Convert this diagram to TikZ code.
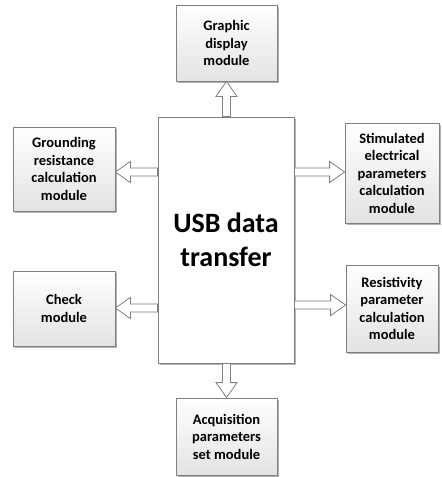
\documentclass[tikz,border=0pt]{standalone}
\usepackage{fontspec}
\setmainfont{Carlito}
\usetikzlibrary{shadows,calc}
\tikzset{
  x=1pt, y=-1pt,
  boxline/.style={draw=black!50, line width=0.8pt},
  module/.style={boxline, top color=white, bottom color=black!11,
    align=center, inner sep=0pt,
    font=\bfseries\fontsize{14.5}{17.5}\selectfont,
    drop shadow={shadow xshift=2pt, shadow yshift=-2pt, fill=black!30, opacity=1}},
  hub/.style={boxline, fill=white, align=center, inner sep=0pt,
    font=\bfseries\fontsize{28}{33.5}\selectfont,
    drop shadow={shadow xshift=2pt, shadow yshift=-2pt, fill=black!30, opacity=1}},
  harrow/.style={boxline, fill=white, line join=miter}
}
% hollow block arrow from #1 to #2
\newcommand\hollowarrow[2]{%
  \path[harrow] let \p1=(#1), \p2=(#2),
      \n1={atan2(\y2-\y1,\x2-\x1)}, \n2={veclen(\x2-\x1,\y2-\y1)} in
    [shift={(\p1)}, rotate=\n1]
    (0pt,-4pt) -- ({\n2*1pt-15pt},-4pt) -- ({\n2*1pt-15pt},-10.5pt)
    -- ({\n2*1pt},0pt) -- ({\n2*1pt-15pt},10.5pt) -- ({\n2*1pt-15pt},4pt)
    -- (0pt,4pt) -- cycle;}
\begin{document}
\begin{tikzpicture}
\useasboundingbox (0,0) rectangle (442,477);

\node[hub, minimum width=136pt, minimum height=246pt] (usb) at (226,240) {USB data\\transfer};

\node[module, minimum width=101pt, minimum height=76pt] (gd) at (226.5,43) {Graphic\\display\\module};
\node[module, minimum width=102pt, minimum height=84pt] (gr) at (64,169) {Grounding\\resistance\\calculation\\module};
\node[module, minimum width=94pt, minimum height=100pt] (st) at (392,173) {Stimulated\\electrical\\parameters\\calculation\\module};
\node[module, minimum width=102pt, minimum height=75pt] (ck) at (64,308.5) {Check\\module};
\node[module, minimum width=92pt, minimum height=87pt] (rs) at (392,308.5) {Resistivity\\parameter\\calculation\\module};
\node[module, minimum width=101pt, minimum height=77pt] (aq) at (226.5,436.5) {Acquisition\\parameters\\set module};

\hollowarrow{gd.south |- usb.north}{gd.south}
\hollowarrow{usb.west |- 0,172}{gr.east |- 0,172}
\hollowarrow{usb.east |- 0,172}{st.west |- 0,172}
\hollowarrow{usb.west |- 0,308}{ck.east |- 0,308}
\hollowarrow{usb.east |- 0,305}{rs.west |- 0,305}
\hollowarrow{aq.north |- usb.south}{aq.north}
\end{tikzpicture}
\end{document}
